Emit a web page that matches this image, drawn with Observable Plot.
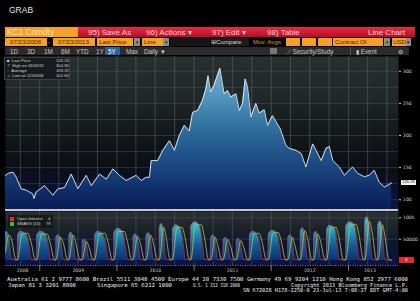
<!DOCTYPE html>
<html><head><meta charset="utf-8">
<script src="https://cdn.jsdelivr.net/npm/d3@7"></script>
<script src="https://cdn.jsdelivr.net/npm/@observablehq/plot@0.6"></script>
<style>
html,body{margin:0;padding:0;background:#000;overflow:hidden}
#root{position:relative;width:420px;height:301px;background:#000;font-family:"Liberation Sans",Arial,sans-serif;overflow:hidden}
.a{position:absolute;white-space:pre;line-height:1;box-sizing:border-box}
.or{background:#f4a124;color:#4a2500}
.rb{top:28.5px;font-size:8px;color:#ffd6d6}
.r2{top:38px;height:8px;font-size:6.2px;padding-top:1px}
.dd{background:#8d8d8d;color:#222;font-size:5px;text-align:center;top:38px;height:8px;padding-top:1.5px}
.r3{top:48.5px;font-size:6.3px;color:#c9c9c9}
.lg{font-size:4.2px;color:#d4d4d4}
svg{display:block}
#price,#oi,#foot{position:absolute;left:0}
#price{top:56px}
#oi{top:211px}
#foot{top:273px}
</style></head><body><div id="root">
<div class="a" style="left:9px;top:6px;font-size:8.5px;color:#e6e6e6">GRAB</div>
<div class="a or" style="left:5px;top:27px;width:73px;height:10px;font-size:8.3px;padding:1px 0 0 2px;color:#fde6c0">KC1 Comdty</div>
<div class="a" style="left:78px;top:27px;width:337px;height:10px;background:linear-gradient(#ea2a43,#b80d26)"></div>
<div class="a rb" style="left:88px">95) Save As</div>
<div class="a rb" style="left:146px">96) Actions ▾</div>
<div class="a rb" style="left:212px">97) Edit ▾</div>
<div class="a rb" style="left:267px">98) Table</div>
<div class="a rb" style="left:368px">Line Chart</div>

<div class="a or r2" style="left:5px;width:42px;padding-left:5px">07/23/2008</div>
<div class="a r2" style="left:48px;color:#ddd">-</div>
<div class="a or r2" style="left:53px;width:42px;padding-left:5px">07/23/2013</div>
<div class="a or r2" style="left:97px;width:36px;padding-left:2px">Last Price</div>
<div class="a dd" style="left:134px;width:6px">▾</div>
<div class="a or r2" style="left:142px;width:21px;padding-left:2px">Line</div>
<div class="a dd" style="left:163px;width:6px">▾</div>
<div class="a r2" style="left:170px;width:40px;background:#151515"></div>
<div class="a r2" style="left:211px;width:38px;background:#1c1c1c;color:#d6d6d6">⊞Compare</div>
<div class="a r2" style="left:253px;color:#e8962c">Mov. Avgs</div>
<div class="a or r2" style="left:286px;width:14px"></div>
<div class="a or r2" style="left:302px;width:14px"></div>
<div class="a or r2" style="left:318px;width:14px"></div>
<div class="a or r2" style="left:333px;width:50px;padding-left:2px">Contract OI</div>
<div class="a dd" style="left:384px;width:6px">▾</div>
<div class="a or r2" style="left:392px;width:14px;padding-left:1px">USD</div>
<div class="a dd" style="left:406px;width:5px">▾</div>

<div class="a" style="left:5px;top:47px;width:404px;height:8px;background:#2b2b2b"></div>
<div class="a r3" style="left:10px">1D</div>
<div class="a r3" style="left:27px">3D</div>
<div class="a r3" style="left:44px">1M</div>
<div class="a r3" style="left:61px">6M</div>
<div class="a r3" style="left:76px">YTD</div>
<div class="a r3" style="left:96px">1Y</div>
<div class="a" style="left:105px;top:47px;width:15px;height:8px;background:#2a63a0"></div>
<div class="a r3" style="left:108px;color:#fff">5Y</div>
<div class="a r3" style="left:126px">Max</div>
<div class="a r3" style="left:144px">Daily ▼</div>
<div class="a" style="left:270px;top:48px;width:7px;height:6px;background:#777"></div>
<div class="a r3" style="left:287px">⟋ Security/Study</div>
<div class="a" style="left:350px;top:47px;width:1px;height:8px;background:#555"></div>
<div class="a r3" style="left:356px">▮ Event</div>
<div class="a r3" style="left:398px">⚙</div>

<svg id="price"></svg>
<div class="a" style="left:4px;top:57px;width:66px;height:23px;background:rgba(22,26,28,0.93);border:0.5px solid #3b4045"></div>
<div class="a lg" style="left:7px;top:59px">■  Last Price</div><div class="a lg" style="left:56px;top:59px">126.25</div>
<div class="a lg" style="left:7px;top:64px">⊤  High on 05/03/11</div><div class="a lg" style="left:56px;top:64px">304.90</div>
<div class="a lg" style="left:7px;top:69px">↕  Average</div><div class="a lg" style="left:56px;top:69px">169.31</div>
<div class="a lg" style="left:7px;top:74px">⊥  Low on 12/05/08</div><div class="a lg" style="left:56px;top:74px">101.60</div>
<div id="plabel" class="a" style="left:401px;width:15px;height:5px;background:#f2f2f2;color:#111;font-size:4.2px;text-align:center;padding-top:0.5px">126.25</div>

<div class="a" style="left:5px;top:209.3px;width:393px;height:1.7px;background:#c4c8d0"></div>
<svg id="oi"></svg>
<div class="a" style="left:8px;top:215px;width:45px;height:13px;background:rgba(20,24,28,0.85)"></div>
<div class="a" style="left:10px;top:216.5px;width:4px;height:4px;background:#e8272c"></div>
<div class="a lg" style="left:17px;top:216.5px">Open Interest</div><div class="a lg" style="left:48px;top:216.5px">4</div>
<div class="a" style="left:10px;top:222px;width:4px;height:4px;background:#25c23c"></div>
<div class="a lg" style="left:17px;top:222px">SMAVG (15)</div><div class="a lg" style="left:46px;top:222px">79</div>
<div id="olabel" class="a" style="left:399px;width:15px;height:6px;background:#e8262a;color:#fff;font-size:4.2px;text-align:center;padding-top:0.8px">4</div>

<svg id="foot" width="420" height="24"></svg>
</div>
<script>
// ---- data ----
const pricePoints = [
["2008-07-23",138],["2008-08-05",141],["2008-08-27",143],["2008-09-12",135],["2008-10-05",117],
["2008-10-29",115],["2008-11-29",109],["2008-12-05",102],["2008-12-15",112],["2009-01-24",122],
["2009-03-04",107],["2009-03-28",117],["2009-04-28",119],["2009-05-30",140],["2009-06-30",117],
["2009-08-09",138],["2009-09-02",122],["2009-10-11",140],["2009-11-12",132],["2009-12-13",148],
["2010-01-13",138],["2010-02-14",130],["2010-04-02",138],["2010-04-26",130],["2010-05-19",135],
["2010-06-04",135],["2010-06-12",161],["2010-07-13",161],["2010-08-06",177],["2010-09-07",192],
["2010-09-30",177],["2010-10-23",200],["2010-11-16",216],["2010-12-09",207],["2010-12-25",236],
["2011-01-18",239],["2011-02-10",255],["2011-02-26",273],["2011-03-08",293],["2011-03-20",268],
["2011-04-05",278],["2011-05-03",304.9],["2011-05-23",265],["2011-06-08",270],["2011-06-24",260],
["2011-07-18",265],["2011-08-03",239],["2011-08-18",250],["2011-08-31",288],["2011-09-11",275],
["2011-09-27",229],["2011-10-20",250],["2011-11-05",235],["2011-11-29",240],["2011-12-14",216],
["2012-01-07",231],["2012-01-23",222],["2012-02-13",210],["2012-03-10",185],["2012-03-26",180],
["2012-04-27",177],["2012-05-22",172],["2012-06-13",151],["2012-07-15",187],["2012-07-31",177],
["2012-08-24",161],["2012-09-16",180],["2012-10-02",183],["2012-10-18",161],["2012-11-18",151],
["2012-12-12",138],["2013-01-04",146],["2013-01-20",151],["2013-02-13",141],["2013-03-16",136],
["2013-04-09",138],["2013-05-02",146],["2013-05-26",127],["2013-06-19",120],["2013-07-02",122],
["2013-07-23",126.25]
];
// open interest, thousands of contracts
const oiPoints = [
["2008-07-23",66],["2008-07-28",68],["2008-08-08",55],["2008-08-20",3],["2008-09-17",1],
["2008-09-18",58],["2008-10-03",68],["2008-10-28",62],["2008-11-12",35],["2008-11-20",3],["2008-12-17",1],
["2008-12-18",60],["2009-01-08",68],["2009-01-30",60],["2009-02-12",30],["2009-02-19",3],["2009-03-18",1],
["2009-03-19",55],["2009-03-30",60],["2009-04-10",50],["2009-04-22",3],["2009-05-18",1],
["2009-05-19",58],["2009-05-29",66],["2009-06-08",52],["2009-06-19",3],["2009-07-20",1],
["2009-07-21",45],["2009-07-31",50],["2009-08-10",40],["2009-08-20",3],["2009-09-17",1],
["2009-09-18",60],["2009-10-05",68],["2009-10-28",60],["2009-11-12",30],["2009-11-19",3],["2009-12-17",1],
["2009-12-18",65],["2010-01-08",75],["2010-01-29",66],["2010-02-11",30],["2010-02-19",3],["2010-03-18",1],
["2010-03-19",55],["2010-03-30",62],["2010-04-10",50],["2010-04-21",3],["2010-05-18",1],
["2010-05-19",58],["2010-05-31",65],["2010-06-09",52],["2010-06-21",3],["2010-07-20",1],
["2010-07-21",75],["2010-07-30",86],["2010-08-10",70],["2010-08-20",3],["2010-09-20",1],
["2010-09-21",72],["2010-10-08",83],["2010-10-29",75],["2010-11-12",35],["2010-11-19",3],["2010-12-16",1],
["2010-12-17",80],["2011-01-07",90],["2011-01-28",80],["2011-02-11",35],["2011-02-18",3],["2011-03-18",1],
["2011-03-21",52],["2011-03-31",60],["2011-04-11",48],["2011-04-21",3],["2011-05-18",1],
["2011-05-19",48],["2011-05-31",54],["2011-06-09",42],["2011-06-21",3],["2011-07-19",1],
["2011-07-20",45],["2011-07-29",52],["2011-08-09",40],["2011-08-22",3],["2011-09-19",1],
["2011-09-20",60],["2011-10-07",68],["2011-10-28",60],["2011-11-11",30],["2011-11-18",3],["2011-12-16",1],
["2011-12-19",62],["2012-01-09",70],["2012-01-30",62],["2012-02-10",30],["2012-02-17",3],["2012-03-19",1],
["2012-03-20",52],["2012-03-30",60],["2012-04-10",48],["2012-04-20",3],["2012-05-17",1],
["2012-05-18",68],["2012-05-30",76],["2012-06-08",60],["2012-06-20",3],["2012-07-19",1],
["2012-07-20",60],["2012-07-31",68],["2012-08-09",54],["2012-08-21",3],["2012-09-18",1],
["2012-09-19",72],["2012-10-05",82],["2012-10-29",74],["2012-11-09",35],["2012-11-16",3],["2012-12-18",1],
["2012-12-19",80],["2013-01-09",90],["2013-01-30",82],["2013-02-11",40],["2013-02-19",3],["2013-03-18",1],
["2013-03-19",92],["2013-03-29",102],["2013-04-10",80],["2013-04-22",3],["2013-05-17",1],
["2013-05-20",84],["2013-05-31",92],["2013-06-10",72],["2013-06-20",3],["2013-07-23",0.004]
];
// 15-day simple moving average of open interest, thousands
const smaPoints = [
["2008-07-23",20],["2008-08-08",60],["2008-08-20",50],["2008-09-10",2],["2008-09-18",2],
["2008-10-09",62],["2008-11-05",64],["2008-11-20",45],["2008-12-11",2],["2008-12-18",2],
["2009-01-09",62],["2009-02-05",62],["2009-02-19",42],["2009-03-12",2],["2009-03-19",2],
["2009-04-08",55],["2009-04-22",42],["2009-05-12",2],["2009-05-19",2],
["2009-06-08",60],["2009-06-19",45],["2009-07-10",2],["2009-07-21",2],
["2009-08-10",45],["2009-08-20",35],["2009-09-10",2],["2009-09-18",2],
["2009-10-09",62],["2009-11-05",64],["2009-11-19",45],["2009-12-10",2],["2009-12-18",2],
["2010-01-08",68],["2010-02-05",68],["2010-02-19",46],["2010-03-12",2],["2010-03-19",2],
["2010-04-08",57],["2010-04-21",42],["2010-05-11",2],["2010-05-19",2],
["2010-06-09",60],["2010-06-21",44],["2010-07-12",2],["2010-07-21",2],
["2010-08-10",78],["2010-08-20",60],["2010-09-10",2],["2010-09-21",2],
["2010-10-12",76],["2010-11-05",78],["2010-11-19",55],["2010-12-10",2],["2010-12-17",2],
["2011-01-07",82],["2011-02-04",84],["2011-02-18",58],["2011-03-11",2],["2011-03-21",2],
["2011-04-11",55],["2011-04-21",40],["2011-05-12",2],["2011-05-19",2],
["2011-06-09",50],["2011-06-21",36],["2011-07-12",2],["2011-07-20",2],
["2011-08-10",47],["2011-08-22",34],["2011-09-12",2],["2011-09-20",2],
["2011-10-11",62],["2011-11-04",64],["2011-11-18",45],["2011-12-09",2],["2011-12-19",2],
["2012-01-09",64],["2012-02-03",66],["2012-02-17",46],["2012-03-09",2],["2012-03-20",2],
["2012-04-10",55],["2012-04-20",40],["2012-05-11",2],["2012-05-18",2],
["2012-06-08",70],["2012-06-20",52],["2012-07-11",2],["2012-07-20",2],
["2012-08-09",62],["2012-08-21",46],["2012-09-11",2],["2012-09-19",2],
["2012-10-10",75],["2012-11-02",78],["2012-11-16",55],["2012-12-07",2],["2012-12-19",2],
["2013-01-09",82],["2013-02-05",85],["2013-02-19",60],["2013-03-12",2],["2013-03-19",2],
["2013-04-09",92],["2013-04-22",68],["2013-05-13",2],["2013-05-20",2],
["2013-06-10",84],["2013-06-20",62],["2013-07-11",2],["2013-07-23",1]
];
const priceTicks = [100, 150, 200, 250, 300];
const priceGrid = [100, 125, 150, 175, 200, 225, 250, 275, 300];
const oiTicks = [50, 100];
const oiTickLabels = ["50000", "100k"];
const yearLabels = ["2008", "2009", "2010", "2011", "2012", "2013"];
const yearLabelDates = ["2008-10-12", "2009-07-02", "2010-07-02", "2011-07-02", "2012-07-02", "2013-04-12"];
const footLines = [
  [[7, 408, "Australia 61 2 9777 8600 Brazil 5511 3048 4500 Europe 44 20 7330 7500 Germany 49 69 9204 1210 Hong Kong 852 2977 6000"]],
  [[8, 76, "Japan 81 3 3201 8900"], [97, 172, "Singapore 65 6212 1000"], [193, 240, "U.S. 1 212 318 2000"], [291, 408, "Copyright 2013 Bloomberg Finance L.P."]],
  [[243, 408, "SN 672028 H178-2250-0 23-Jul-13  7:08:27 EDT  GMT-4:00"]]
];

// ---- build ----
const parse = d3.utcParse("%Y-%m-%d");
const prices = pricePoints.map(([d, v]) => ({date: parse(d), value: v}));
const oi = oiPoints.map(([d, v]) => ({date: parse(d), value: v}));
const sma = smaPoints.map(([d, v]) => ({date: parse(d), value: v}));
const xDomain = [parse("2008-07-23"), parse("2013-08-25")];
const quarterTicks = d3.utcMonth.every(3).range(xDomain[0], xDomain[1]);
const yearStarts = d3.utcYear.range(xDomain[0], xDomain[1]);
const priceY = [83.3, 323];
const oiY = [-11.7, 114.8];

const priceChart = Plot.plot({
  width: 420, height: 154, marginLeft: 5, marginRight: 22, marginTop: 0, marginBottom: 0,
  style: {background: "transparent", overflow: "visible", fontFamily: "DejaVu Sans, sans-serif"},
  x: {type: "utc", domain: xDomain, axis: null},
  y: {domain: priceY, axis: null},
  marks: [
    Plot.frame({fill: "url(#pbg)", stroke: "none"}),
    Plot.gridX({ticks: quarterTicks, stroke: "#6a7b86", strokeOpacity: 0.55, strokeWidth: 0.8}),
    Plot.gridY({ticks: priceGrid, stroke: "#56646b", strokeOpacity: 0.5, strokeWidth: 0.8}),
    Plot.areaY(prices, {x: "date", y1: priceY[0], y2: "value", fill: "url(#agrad)"}),
    Plot.lineY(prices, {x: "date", y: "value", stroke: "#e6eef8", strokeWidth: 0.9}),
    Plot.axisY({anchor: "right", label: null, ticks: priceTicks, tickSize: 2, tickPadding: 2.5, fontSize: 4.6, color: "#d6d6d6"})
  ]
});
document.getElementById("price").replaceWith(priceChart);
priceChart.id = "price";

const oiChart = Plot.plot({
  width: 420, height: 64, marginLeft: 5, marginRight: 22, marginTop: 0, marginBottom: 10,
  style: {background: "transparent", overflow: "visible", fontFamily: "DejaVu Sans, sans-serif"},
  x: {type: "utc", domain: xDomain, axis: null},
  y: {domain: oiY, axis: null},
  marks: [
    Plot.frame({fill: "url(#obg)", stroke: "none"}),
    Plot.gridX({ticks: quarterTicks, stroke: "#6a7b86", strokeOpacity: 0.45, strokeWidth: 0.8}),
    Plot.gridY({ticks: oiTicks, stroke: "#56646b", strokeOpacity: 0.5, strokeWidth: 0.8}),
    Plot.areaY(oi, {x: "date", y1: 0, y2: "value", fill: "url(#ograd)", curve: "monotone-x"}),
    Plot.lineY(oi, {x: "date", y: "value", stroke: "#e8343a", strokeWidth: 0.8, strokeOpacity: 0.85, curve: "monotone-x"}),
    Plot.lineY(sma, {x: "date", y: "value", stroke: "#9ad44a", strokeWidth: 0.8, curve: "monotone-x"}),
    Plot.ruleY([oiY[0]], {stroke: "#9aa4aa", strokeWidth: 0.8, strokeDasharray: "1,1.5"}),
    Plot.axisY({anchor: "right", label: null, ticks: oiTicks, tickFormat: d => oiTickLabels[oiTicks.indexOf(d)], tickSize: 2, tickPadding: 2.5, fontSize: 4.6, color: "#d6d6d6"}),
    Plot.axisX({ticks: yearStarts, label: null, tickFormat: () => "", tickSize: 6, color: "#9a9a9a", strokeWidth: 0.8}),
    Plot.axisX({ticks: yearLabelDates.map(parse), label: null, tickFormat: d => yearLabels[yearLabelDates.indexOf(d3.utcFormat("%Y-%m-%d")(d))], tickSize: 0, tickPadding: 3, fontSize: 4.6, color: "#cfcfcf"})
  ]
});
document.getElementById("oi").replaceWith(oiChart);
oiChart.id = "oi";

function addGradient(svg, id, stops, userY) {
  let defs = d3.select(svg).select("defs");
  if (defs.empty()) defs = d3.select(svg).insert("defs", ":first-child");
  const g = defs.append("linearGradient").attr("id", id).attr("x1", 0).attr("x2", 0);
  if (userY) g.attr("gradientUnits", "userSpaceOnUse").attr("y1", userY[0]).attr("y2", userY[1]);
  else g.attr("y1", 0).attr("y2", 1);
  for (const [o, c] of stops) g.append("stop").attr("offset", o).attr("stop-color", c);
}
addGradient(priceChart, "pbg", [[0, "#27302f"], [0.28, "#1f2727"], [0.45, "#151a1c"], [0.7, "#0c0f14"], [0.85, "#0a0f2a"], [1, "#0b1548"]]);
addGradient(priceChart, "agrad", [[0, "#7cb8d8"], [0.25, "#5498c0"], [0.5, "#2c6898"], [0.72, "#19467e"], [0.88, "#0f2c68"], [1, "#0a1c55"]], [0, 154]);
addGradient(oiChart, "obg", [[0, "#2a3134"], [0.3, "#1c2428"], [0.6, "#0d1430"], [1, "#0a1448"]]);
addGradient(oiChart, "ograd", [[0, "#46d4dc"], [0.3, "#289cc0"], [0.6, "#155a94"], [1, "#0a2466"]], [5, 54]);

// value labels positioned through the library scales
const lastP = prices[prices.length - 1];
document.getElementById("plabel").style.top = (56 + priceChart.scale("y").apply(lastP.value) - 2.5) + "px";
const lastO = oi[oi.length - 1];
document.getElementById("olabel").style.top = (211 + oiChart.scale("y").apply(lastO.value) - 3) + "px";

// footer
const foot = d3.select("#foot");
footLines.forEach((line, i) => {
  for (const [x0, x1, t] of line) {
    foot.append("text").attr("x", x0).attr("y", 8 + i * 5.6)
      .attr("textLength", x1 - x0).attr("lengthAdjust", "spacingAndGlyphs")
      .attr("font-family", "DejaVu Sans Mono, monospace").attr("font-size", 5.4)
      .attr("fill", "#f2f2f2").text(t);
  }
});
</script>
</body></html>
